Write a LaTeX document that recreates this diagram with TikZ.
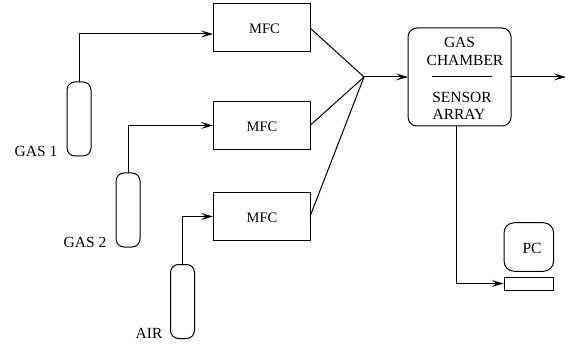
\documentclass[tikz,border=0pt]{standalone}
\usepackage{fontspec}
\setmainfont{Liberation Serif}
\usetikzlibrary{arrows.meta}
\tikzset{
 wire/.style={line width=1pt},
 flow/.style={wire, -{Stealth[length=12pt,width=7pt,inset=5pt]}},
 mfcbox/.style={draw, line width=1pt, minimum width=97pt, minimum height=48pt, inner sep=0pt, outer sep=0pt},
 bottle/.style={draw, line width=1pt, rounded corners=8pt, minimum width=24pt, minimum height=74pt, inner sep=0pt, outer sep=0pt},
 chamberbox/.style={draw, line width=1pt, rounded corners=9pt, minimum width=103pt, minimum height=98pt, inner sep=0pt, outer sep=0pt},
 txt/.style={font=\fontsize{15.5}{15.5}\selectfont, inner sep=0pt},
}
\begin{document}
\begin{tikzpicture}[x=1pt,y=-1pt]
\useasboundingbox (0,0) rectangle (577,344);

% flow controllers
\foreach \name/\cy/\tx/\ty in {mfcone/28/264.5/29, mfctwo/125.5/262/127, mfcthree/216.5/262/218}{
 \node[mfcbox] (\name) at (261.5,\cy) {};
 \node[txt] (\name text) at (\tx,\ty) {\fontsize{14.5}{14.5}\selectfont MFC};
}

% bottles
\node[bottle] (gasone) at (79,119) {};
\node[bottle] (gastwo) at (128,210) {};
\node[bottle] (air) at (182.5,301.5) {};
\node[txt] (gasonetext) at (36,151) {GAS 1};
\node[txt] (gastwotext) at (85,242) {GAS 2};
\node[txt] (airtext) at (149,333) {AIR};

\draw[flow] (gasone.north) |- ([yshift=-6pt]mfcone.west);
\draw[flow] (gastwo.north) |- (mfctwo.west);
\draw[flow] (air.north) |- (mfcthree.west);

% mixing point
\coordinate (joint) at (364,77);
\foreach \name in {mfcone,mfctwo,mfcthree}{
 \draw[wire] (\name.east) -- (joint);
}

% chamber
\node[chamberbox] (chamber) at (459.5,77) {};
\node[txt] (gastext) at (459.5,42) {GAS};
\node[txt] (chambertext) at (465,60) {CHAMBER};
\node[txt] (sensortext) at (462,97) {SENSOR};
\node[txt] (arraytext) at (459,114) {ARRAY};
\coordinate (divleft) at (432,77);
\coordinate (divright) at (492,77);
\draw[wire] (divleft) -- (divright);

\coordinate (outlet) at (566,77);
\draw[flow] (joint) -- (chamber.west);
\draw[flow] (chamber.east) -- (outlet);

% computer
\node[draw, line width=1pt, rounded corners=10pt, minimum width=49.5pt, minimum height=48.5pt, inner sep=0pt] (pc) at (528.8,247) {};
\node[txt] (pctext) at (532,248) {PC};
\node[draw, line width=1pt, minimum width=49.5pt, minimum height=13pt, inner sep=0pt] (keyboard) at (528.8,283.5) {};
\coordinate (tap) at (456,126);
\draw[flow] (tap) |- (keyboard.west);
\end{tikzpicture}
\end{document}
